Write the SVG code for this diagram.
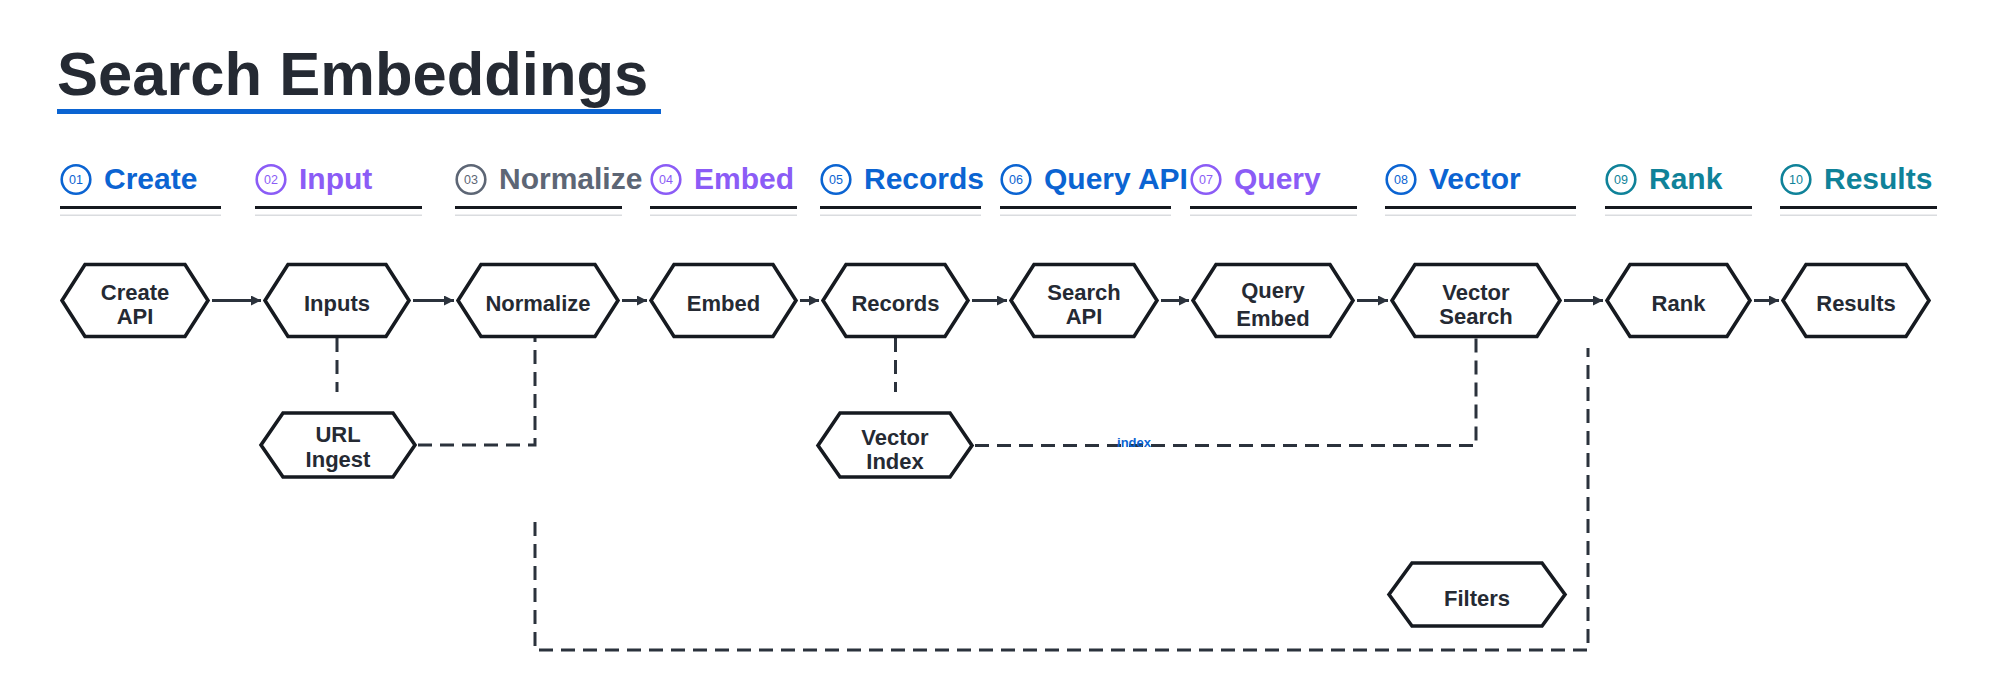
<svg xmlns="http://www.w3.org/2000/svg" width="2000" height="700" viewBox="0 0 2000 700">
<style>
  .title{font-family:"Liberation Sans",Arial,sans-serif;font-weight:700;font-size:61.5px;fill:#252a33}
  .hd{font-family:"Liberation Sans",Arial,sans-serif;font-weight:700;font-size:30px}
  .num{font-family:"Liberation Sans",Arial,sans-serif;font-size:12.5px;text-anchor:middle}
  .ring{fill:#fff;stroke-width:2.6}
  .blue{fill:#0b64d2;stroke:#0b64d2}
  .purple{fill:#8b5cf6;stroke:#8b5cf6}
  .gray{fill:#5d6675;stroke:#5d6675}
  .teal{fill:#0f8299;stroke:#0f8299}
  text.hd,text.num{stroke:none}
  circle.ring{fill:#fff}
  rect.ul{fill:#16191f;stroke:none}
  rect.ul2{fill:#dadcdf;stroke:none}
  .hex{fill:#fff;stroke:#161a20;stroke-width:3.6;stroke-linejoin:miter}
  .lbl{font-family:"Liberation Sans",Arial,sans-serif;font-weight:700;font-size:22px;fill:#252a33;text-anchor:middle}
  .flow{fill:none;stroke:#2b323c;stroke-width:3}
  .dash{fill:none;stroke:#2b323c;stroke-width:3;stroke-dasharray:14 8}
  .elbl{font-family:"Liberation Sans",Arial,sans-serif;font-weight:700;font-size:13px;fill:#0b64d2;text-anchor:middle}
</style>
<defs>
  <marker id="arr" markerUnits="userSpaceOnUse" markerWidth="10" markerHeight="10" refX="10" refY="5" orient="auto">
    <path d="M0,0 L10,5 L0,10 z" fill="#2b323c"/>
  </marker>
</defs>
<rect width="2000" height="700" fill="#fff"/>

<g id="title">
  <text class="title" x="57" y="95">Search Embeddings</text>
  <rect x="57" y="109" width="604" height="5" fill="#0b64d2"/>
</g>

<g id="headers">
  <g id="h01" class="blue"><circle class="ring" cx="76" cy="179.5" r="14.3"/><text class="num" x="76" y="184">01</text><text class="hd" x="104" y="189">Create</text><rect class="ul" x="60" y="206" width="161" height="3"/><rect class="ul2" x="60" y="214.5" width="161" height="1.5"/></g>
  <g id="h02" class="purple"><circle class="ring" cx="271" cy="179.5" r="14.3"/><text class="num" x="271" y="184">02</text><text class="hd" x="299" y="189">Input</text><rect class="ul" x="255" y="206" width="167" height="3"/><rect class="ul2" x="255" y="214.5" width="167" height="1.5"/></g>
  <g id="h03" class="gray"><circle class="ring" cx="471" cy="179.5" r="14.3"/><text class="num" x="471" y="184">03</text><text class="hd" x="499" y="189">Normalize</text><rect class="ul" x="455" y="206" width="167" height="3"/><rect class="ul2" x="455" y="214.5" width="167" height="1.5"/></g>
  <g id="h04" class="purple"><circle class="ring" cx="666" cy="179.5" r="14.3"/><text class="num" x="666" y="184">04</text><text class="hd" x="694" y="189">Embed</text><rect class="ul" x="650" y="206" width="147" height="3"/><rect class="ul2" x="650" y="214.5" width="147" height="1.5"/></g>
  <g id="h05" class="blue"><circle class="ring" cx="836" cy="179.5" r="14.3"/><text class="num" x="836" y="184">05</text><text class="hd" x="864" y="189">Records</text><rect class="ul" x="820" y="206" width="161" height="3"/><rect class="ul2" x="820" y="214.5" width="161" height="1.5"/></g>
  <g id="h06" class="blue"><circle class="ring" cx="1016" cy="179.5" r="14.3"/><text class="num" x="1016" y="184">06</text><text class="hd" x="1044" y="189">Query API</text><rect class="ul" x="1000" y="206" width="171" height="3"/><rect class="ul2" x="1000" y="214.5" width="171" height="1.5"/></g>
  <g id="h07" class="purple"><circle class="ring" cx="1206" cy="179.5" r="14.3"/><text class="num" x="1206" y="184">07</text><text class="hd" x="1234" y="189">Query</text><rect class="ul" x="1190" y="206" width="167" height="3"/><rect class="ul2" x="1190" y="214.5" width="167" height="1.5"/></g>
  <g id="h08" class="blue"><circle class="ring" cx="1401" cy="179.5" r="14.3"/><text class="num" x="1401" y="184">08</text><text class="hd" x="1429" y="189">Vector</text><rect class="ul" x="1385" y="206" width="191" height="3"/><rect class="ul2" x="1385" y="214.5" width="191" height="1.5"/></g>
  <g id="h09" class="teal"><circle class="ring" cx="1621" cy="179.5" r="14.3"/><text class="num" x="1621" y="184">09</text><text class="hd" x="1649" y="189">Rank</text><rect class="ul" x="1605" y="206" width="147" height="3"/><rect class="ul2" x="1605" y="214.5" width="147" height="1.5"/></g>
  <g id="h10" class="teal"><circle class="ring" cx="1796" cy="179.5" r="14.3"/><text class="num" x="1796" y="184">10</text><text class="hd" x="1824" y="189">Results</text><rect class="ul" x="1780" y="206" width="157" height="3"/><rect class="ul2" x="1780" y="214.5" width="157" height="1.5"/></g>
</g>

<g id="connectors">
  <line class="flow" x1="212" y1="300.5" x2="261" y2="300.5" marker-end="url(#arr)"/>
  <line class="flow" x1="413" y1="300.5" x2="454" y2="300.5" marker-end="url(#arr)"/>
  <line class="flow" x1="622" y1="300.5" x2="647" y2="300.5" marker-end="url(#arr)"/>
  <line class="flow" x1="800" y1="300.5" x2="819" y2="300.5" marker-end="url(#arr)"/>
  <line class="flow" x1="972" y1="300.5" x2="1007" y2="300.5" marker-end="url(#arr)"/>
  <line class="flow" x1="1161" y1="300.5" x2="1189" y2="300.5" marker-end="url(#arr)"/>
  <line class="flow" x1="1357" y1="300.5" x2="1388" y2="300.5" marker-end="url(#arr)"/>
  <line class="flow" x1="1564" y1="300.5" x2="1603" y2="300.5" marker-end="url(#arr)"/>
  <line class="flow" x1="1754" y1="300.5" x2="1779" y2="300.5" marker-end="url(#arr)"/>
  <path class="dash" d="M337,338 V392"/>
  <path class="dash" d="M418,445 H535 V338"/>
  <path class="dash" d="M895.5,338 V392"/>
  <path class="dash" d="M975,445.5 H1476 V338"/>
  <path class="dash" d="M535,522 V650 H1588 V348"/>
  <text class="elbl" x="1134" y="447">index</text>
</g>

<g id="n-create-api"><polygon class="hex" points="62,300.5 85,264.5 185,264.5 208,300.5 185,336.5 85,336.5"/><text class="lbl" x="135" y="300">Create</text><text class="lbl" x="135" y="324">API</text></g>
<g id="n-inputs"><polygon class="hex" points="265,300.5 288,264.5 386,264.5 409,300.5 386,336.5 288,336.5"/><text class="lbl" x="337" y="311">Inputs</text></g>
<g id="n-normalize"><polygon class="hex" points="458,300.5 481,264.5 595,264.5 618,300.5 595,336.5 481,336.5"/><text class="lbl" x="538" y="311">Normalize</text></g>
<g id="n-embed"><polygon class="hex" points="651,300.5 674,264.5 773,264.5 796,300.5 773,336.5 674,336.5"/><text class="lbl" x="723.5" y="311">Embed</text></g>
<g id="n-records"><polygon class="hex" points="823,300.5 846,264.5 945,264.5 968,300.5 945,336.5 846,336.5"/><text class="lbl" x="895.5" y="311">Records</text></g>
<g id="n-search-api"><polygon class="hex" points="1011,300.5 1034,264.5 1134,264.5 1157,300.5 1134,336.5 1034,336.5"/><text class="lbl" x="1084" y="300">Search</text><text class="lbl" x="1084" y="324">API</text></g>
<g id="n-query-embed"><polygon class="hex" points="1193,300.5 1216,264.5 1330,264.5 1353,300.5 1330,336.5 1216,336.5"/><text class="lbl" x="1273" y="298">Query</text><text class="lbl" x="1273" y="326">Embed</text></g>
<g id="n-vector-search"><polygon class="hex" points="1392,300.5 1415,264.5 1537,264.5 1560,300.5 1537,336.5 1415,336.5"/><text class="lbl" x="1476" y="300">Vector</text><text class="lbl" x="1476" y="324">Search</text></g>
<g id="n-rank"><polygon class="hex" points="1607,300.5 1630,264.5 1727,264.5 1750,300.5 1727,336.5 1630,336.5"/><text class="lbl" x="1678.5" y="311">Rank</text></g>
<g id="n-results"><polygon class="hex" points="1783,300.5 1806,264.5 1906,264.5 1929,300.5 1906,336.5 1806,336.5"/><text class="lbl" x="1856" y="311">Results</text></g>
<g id="n-url-ingest"><polygon class="hex" points="261,445 283,413 393,413 415,445 393,477 283,477"/><text class="lbl" x="338" y="442">URL</text><text class="lbl" x="338" y="467">Ingest</text></g>
<g id="n-vector-index"><polygon class="hex" points="818,445.5 840,413 950,413 972,445.5 950,477 840,477"/><text class="lbl" x="895" y="445">Vector</text><text class="lbl" x="895" y="469">Index</text></g>
<g id="n-filters"><polygon class="hex" points="1389,594.5 1412,563 1542,563 1565,594.5 1542,626 1412,626"/><text class="lbl" x="1477" y="606">Filters</text></g>
</svg>
